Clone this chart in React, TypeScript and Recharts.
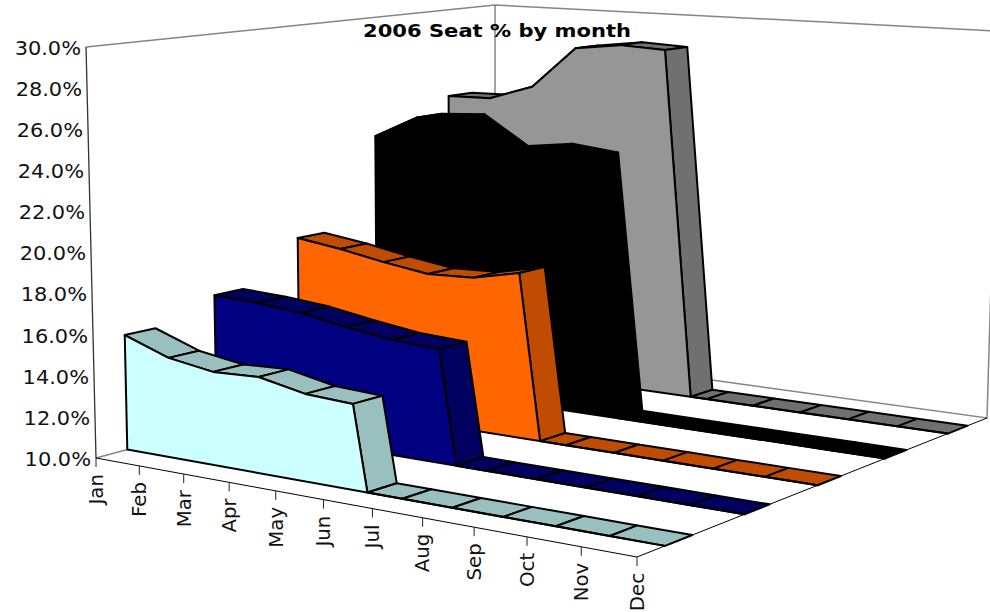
import React from 'react';
import { LineChart, Line, XAxis, YAxis, Customized } from 'recharts';

// ---- data (Jul-Dec sit at 0, below the 10% axis floor)
const months = ['Jan', 'Feb', 'Mar', 'Apr', 'May', 'Jun', 'Jul', 'Aug', 'Sep', 'Oct', 'Nov', 'Dec'];
const seriesA = [15.64, 14.84, 14.49, 14.58, 14.12, 14.0, 0, 0, 0, 0, 0, 0];
const seriesB = [16.66, 16.55, 16.34, 15.95, 15.62, 15.5, 0, 0, 0, 0, 0, 0];
const seriesC = [18.74, 18.42, 18.0, 17.66, 17.74, 18.26, 0, 0, 0, 0, 0, 0];
const seriesD = [23.49, 24.7, 24.85, 23.33, 23.66, 23.4, 0, 0, 0, 0, 0, 0];
const seriesE = [25.11, 25.16, 25.98, 28.26, 28.58, 28.46, 0, 0, 0, 0, 0, 0];
const yTicks = [10, 12, 14, 16, 18, 20, 22, 24, 26, 28, 30];

const rows = months.map((month, i) => ({
  month,
  a: seriesA[i],
  b: seriesB[i],
  c: seriesC[i],
  d: seriesD[i],
  e: seriesE[i],
}));

// ---- styling per series, front to back
const seriesKeys = ['a', 'b', 'c', 'd', 'e'];
const faceColors = ['#CCFFFF', '#000080', '#FF6600', '#000000', '#969696'];
const topColors = ['#99BFBF', '#000060', '#BF4C00', '#000000', '#707070'];

// ---- layout of the plot as recharts sees it
const PLOT_LEFT = 86;
const PLOT_RIGHT = 990;
const PLOT_TOP = 47;
const FLOOR_Y = 458; // where the y axis scale puts 10%
const SPAN = FLOOR_Y - PLOT_TOP;
const FONT = "'DejaVu Sans', Verdana, sans-serif";

// ---- projection: floor corners of the 3-D box, a plane homography, plus a vertical lift
const A = [96, 458];
const B = [637, 557];
const C = [987, 418];
const D = [495, 350];
const det = (p: number[], q: number[]) => p[0] * q[1] - p[1] * q[0];
const dx1 = [B[0] - C[0], B[1] - C[1]];
const dx2 = [D[0] - C[0], D[1] - C[1]];
const sum = [A[0] - B[0] + C[0] - D[0], A[1] - B[1] + C[1] - D[1]];
const g = det(sum, dx2) / det(dx1, dx2);
const h = det(dx1, sum) / det(dx1, dx2);
const LEAN_X = 495;
const LEAN = 16440;

function project(u: number, t: number, w: number): [number, number] {
  const q = 1 + g * u + h * w;
  const fx = (A[0] + (B[0] * (1 + g) - A[0]) * u + (D[0] * (1 + h) - A[0]) * w) / q;
  const fy = (A[1] + (B[1] * (1 + g) - A[1]) * u + (D[1] * (1 + h) - A[1]) * w) / q;
  const lift = (SPAN / q) * t;
  return [fx + ((fx - LEAN_X) * lift) / LEAN, fy - lift];
}

const toPath = (pts: [number, number][]) =>
  pts.map((p) => `${p[0].toFixed(2)},${p[1].toFixed(2)}`).join(' ');

// ---- the walls, floor edges and title
function Frame() {
  const a = project(0, 0, 0);
  const b = project(1, 0, 0);
  const c = project(1, 0, 1);
  const d = project(0, 0, 1);
  const a1 = project(0, 1, 0);
  const c1 = project(1, 1, 1);
  const d1 = project(0, 1, 1);
  const grey = { stroke: '#858585', strokeWidth: 1.5, fill: 'none' };
  return (
    <g>
      <polyline points={toPath([a1, d1, c1])} {...grey} />
      <polyline points={toPath([d1, d])} {...grey} />
      <polyline points={toPath([a, d, c, c1])} {...grey} />
      <polyline points={toPath([a1, a])} stroke="#333" strokeWidth={1.3} fill="none" />
      <polyline points={toPath([a, b, c])} stroke="#000" strokeWidth={1} fill="none" />
      <text
        x={497}
        y={36.5}
        textAnchor="middle"
        fontFamily={FONT}
        fontWeight={700}
        fontSize={18.5}
        fill="#000"
        textLength={268}
        lengthAdjust="spacingAndGlyphs"
      >
        2006 Seat % by month
      </text>
    </g>
  );
}

// ---- one slab of the 3-D area, drawn from the points recharts computed for a Line
function Slab({ points, depth }: { points: { x: number; y: number }[]; depth: number }) {
  const w0 = (depth + 1 / 3) / 5;
  const w1 = (depth + 2 / 3) / 5;
  const raw = points.map((p) => ({
    u: (p.x - PLOT_LEFT) / (PLOT_RIGHT - PLOT_LEFT),
    t: (FLOOR_Y - p.y) / SPAN,
  }));
  const path: { u: number; t: number }[] = [];
  raw.forEach((p, i) => {
    const prev = raw[i - 1];
    if (prev && prev.t > 0 && p.t < 0) {
      const f = prev.t / (prev.t - p.t);
      path.push({ u: prev.u + (p.u - prev.u) * f, t: 0 });
    }
    path.push({ u: p.u, t: Math.max(p.t, 0) });
  });
  const style = { stroke: '#000', strokeWidth: 2, strokeLinejoin: 'round' as const };
  const front = path.map((p) => project(p.u, p.t, w0));
  const first = path[0];
  const last = path[path.length - 1];
  const outline: [number, number][] = [...front, project(last.u, 0, w0), project(first.u, 0, w0)];
  return (
    <g>
      {path.slice(1).map((p, i) => {
        const q = path[i];
        return (
          <polygon
            key={i}
            points={toPath([
              project(q.u, q.t, w0),
              project(q.u, q.t, w1),
              project(p.u, p.t, w1),
              project(p.u, p.t, w0),
            ])}
            fill={topColors[depth]}
            {...style}
          />
        );
      })}
      <polygon points={toPath(outline)} fill={faceColors[depth]} {...style} />
    </g>
  );
}

const slabDot = (depth: number) => (props: any) =>
  props.index === 0 ? (
    <Slab key="slab" points={props.points} depth={depth} />
  ) : (
    <g key={props.index} />
  );

// ---- axis ticks placed on the projected edges
function XTick(props: any) {
  const u = (props.x - PLOT_LEFT) / (PLOT_RIGHT - PLOT_LEFT);
  const [x, y] = project(u, 0, 0);
  return (
    <g>
      <line x1={x} y1={y} x2={x} y2={y + 9} stroke="#222" strokeWidth={1} />
      <text
        transform={`translate(${x},${y + 16}) rotate(-90) scale(1.04,1)`}
        textAnchor="end"
        dy="0.36em"
        fontFamily={FONT}
        fontSize={19}
        fill="#111"
      >
        {props.payload.value}
      </text>
    </g>
  );
}

function YTick(props: any) {
  const t = (FLOOR_Y - props.y) / SPAN;
  const [x] = project(0, t, 0);
  return (
    <text
      transform={`translate(${x - 5},${props.y + 1}) scale(1.1,1)`}
      dy="0.36em"
      textAnchor="end"
      fontFamily={FONT}
      fontSize={19}
      fill="#111"
    >
      {`${props.payload.value.toFixed(1)}%`}
    </text>
  );
}

export default function App() {
  // the value axis runs down to 0 so the Jul-Dec zeros stay on its scale; 10% is the visible floor
  const chartHeight = PLOT_TOP + (SPAN / 20) * 30 + 30;
  return (
    <div style={{ position: 'absolute', left: 0, top: 0, width: 990, height: 612, overflow: 'hidden' }}>
      <LineChart
        width={990}
        height={chartHeight}
        data={rows}
        margin={{ top: PLOT_TOP, right: 0, bottom: 0, left: 0 }}
      >
        <Customized component={Frame} />
        <XAxis dataKey="month" height={30} interval={0} axisLine={false} tickLine={false} tick={XTick} />
        <YAxis
          width={PLOT_LEFT}
          type="number"
          domain={[0, 30]}
          ticks={yTicks}
          interval={0}
          axisLine={false}
          tickLine={false}
          tick={YTick}
        />
        {[4, 3, 2, 1, 0].map((depth) => (
          <Line
            key={seriesKeys[depth]}
            dataKey={seriesKeys[depth]}
            stroke="none"
            dot={slabDot(depth)}
            activeDot={false}
            isAnimationActive={false}
          />
        ))}
      </LineChart>
    </div>
  );
}
